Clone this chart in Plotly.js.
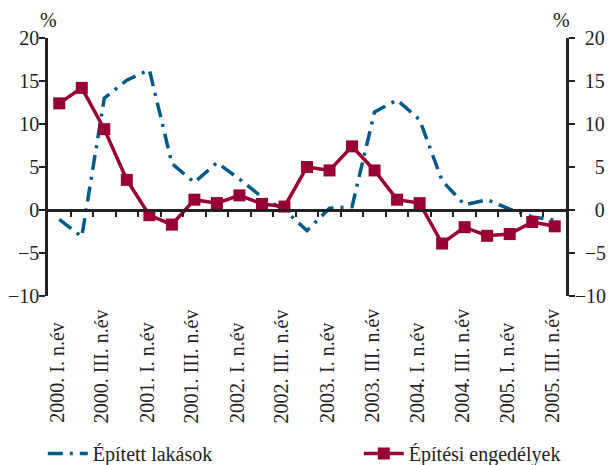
<!DOCTYPE html>
<html>
<head>
<meta charset="utf-8">
<script src="https://cdn.plot.ly/plotly-3.0.1.min.js"></script>
<style>
  html, body { margin: 0; padding: 0; background: #ffffff; }
  #chart { width: 609px; height: 465px; }
</style>
</head>
<body>
<div id="chart"></div>
<script>
// Quarters 2000 I - 2005 III
var quarters = [
  "2000. I. n.év", "2000. II. n.év", "2000. III. n.év", "2000. IV. n.év",
  "2001. I. n.év", "2001. II. n.év", "2001. III. n.év", "2001. IV. n.év",
  "2002. I. n.év", "2002. II. n.év", "2002. III. n.év", "2002. IV. n.év",
  "2003. I. n.év", "2003. II. n.év", "2003. III. n.év", "2003. IV. n.év",
  "2004. I. n.év", "2004. II. n.év", "2004. III. n.év", "2004. IV. n.év",
  "2005. I. n.év", "2005. II. n.év", "2005. III. n.év"
];
var tickLabels = [
  "2000. I. n.év", "2000. III. n.év", "2001. I. n.év", "2001. III. n.év",
  "2002. I. n.év", "2002. III. n.év", "2003. I. n.év", "2003. III. n.év",
  "2004. I. n.év", "2004. III. n.év", "2005. I. n.év", "2005. III. n.év"
];
var yTickValues = [-10, -5, 0, 5, 10, 15, 20];
var yTickLabels = ["\u221210", "\u22125", "0", "5", "10", "15", "20"];
var epitettLakasok = [-1.1, -3.1, 13.0, 15.1, 16.3, 5.4, 3.2, 5.5, 3.6, 1.5, 0.0, -2.4,
                      0.2, 0.4, 11.4, 12.8, 10.5, 3.4, 0.6, 1.2, 0.1, -0.8, -1.2];
var epitesiEngedelyek = [12.4, 14.2, 9.4, 3.5, -0.6, -1.7, 1.2, 0.8, 1.7, 0.7, 0.4, 5.0,
                         4.6, 7.4, 4.6, 1.2, 0.8, -3.9, -2.0, -3.0, -2.8, -1.4, -1.9];
var seriesNames = ["Épített lakások", "Építési engedélyek"];

var idx = quarters.map(function (q, i) { return i; });
var boundaries = quarters.slice(1).map(function (q, i) { return i + 0.5; });
var labelPos = tickLabels.map(function (t) { return quarters.indexOf(t); });
// right axis labels are right-aligned: pad with figure spaces
var FS = "\u2007";
var yTickLabelsRight = yTickLabels.map(function (t) {
  var digits = t.replace("\u2212", "").length;
  var neg = t.indexOf("\u2212") === 0;
  var pad = (neg ? 0 : 1) + (2 - digits);
  return new Array(pad + 1).join(FS) + t;
});

var blue = "#005a87";
var red = "#970031";
var fontFam = '"Liberation Serif", "Times New Roman", serif';
var ink = "#222222";

var traces = [
  {
    x: idx, y: epitettLakasok, name: seriesNames[0], type: "scatter", mode: "lines",
    line: { color: blue, width: 3.5, dash: "15px,7px,3px,7px" },
    xaxis: "x", yaxis: "y", legend: "legend", hoverinfo: "skip"
  },
  {
    x: idx, y: epitesiEngedelyek, name: seriesNames[1], type: "scatter", mode: "lines+markers",
    line: { color: red, width: 3.5 },
    marker: { symbol: "square", size: 12, color: red },
    xaxis: "x", yaxis: "y2", legend: "legend2", hoverinfo: "skip"
  }
];

var yCommon = {
  range: [-10, 20], tickmode: "array", tickvals: yTickValues,
  ticks: "outside", ticklen: 6, tickwidth: 2, ticklabelstandoff: -4,
  tickcolor: ink, showline: true, linewidth: 2.8, linecolor: ink,
  showgrid: false, zeroline: false, fixedrange: true,
  tickfont: { family: fontFam, size: 20, color: ink }
};

var labelAnnotations = tickLabels.map(function (t, i) {
  return {
    text: t, xref: "x", yref: "paper", x: labelPos[i], y: -0.50, xshift: -3,
    textangle: -90, showarrow: false, xanchor: "center", yanchor: "bottom",
    font: { family: fontFam, size: 20, color: ink }
  };
});

var legendCommon = {
  orientation: "h", xanchor: "left", y: -0.61, yanchor: "middle",
  font: { family: fontFam, size: 20, color: ink },
  itemwidth: 40, bgcolor: "rgba(0,0,0,0)"
};

var layout = {
  width: 609, height: 465,
  margin: { l: 48, r: 43, t: 38, b: 169, autoexpand: false },
  paper_bgcolor: "#ffffff", plot_bgcolor: "#ffffff",
  font: { family: fontFam, size: 20, color: ink },
  showlegend: true,
  legend: Object.assign({}, legendCommon, { x: -0.01 }),
  legend2: Object.assign({}, legendCommon, { x: 0.60 }),
  xaxis: {
    range: [-0.5, 22.5], tickmode: "array", tickvals: boundaries, showticklabels: false,
    ticks: "outside", ticklen: 5, tickwidth: 2, tickcolor: ink,
    showline: true, linewidth: 2.5, linecolor: ink,
    showgrid: false, zeroline: false, anchor: "free", position: 1 / 3, fixedrange: true
  },
  yaxis: Object.assign({}, yCommon, { side: "left", anchor: "x", ticktext: yTickLabels }),
  yaxis2: Object.assign({}, yCommon, { side: "right", overlaying: "y", anchor: "x",
                                       ticktext: yTickLabelsRight }),
  annotations: [
    { text: "%", xref: "paper", yref: "paper", x: 0, y: 1.07, showarrow: false,
      xanchor: "center", yanchor: "middle", font: { family: fontFam, size: 20, color: ink } },
    { text: "%", xref: "paper", yref: "paper", x: 0.992, y: 1.07, showarrow: false,
      xanchor: "center", yanchor: "middle", font: { family: fontFam, size: 20, color: ink } }
  ].concat(labelAnnotations)
};

Plotly.newPlot("chart", traces, layout, { displayModeBar: false, staticPlot: true });
</script>
</body>
</html>
